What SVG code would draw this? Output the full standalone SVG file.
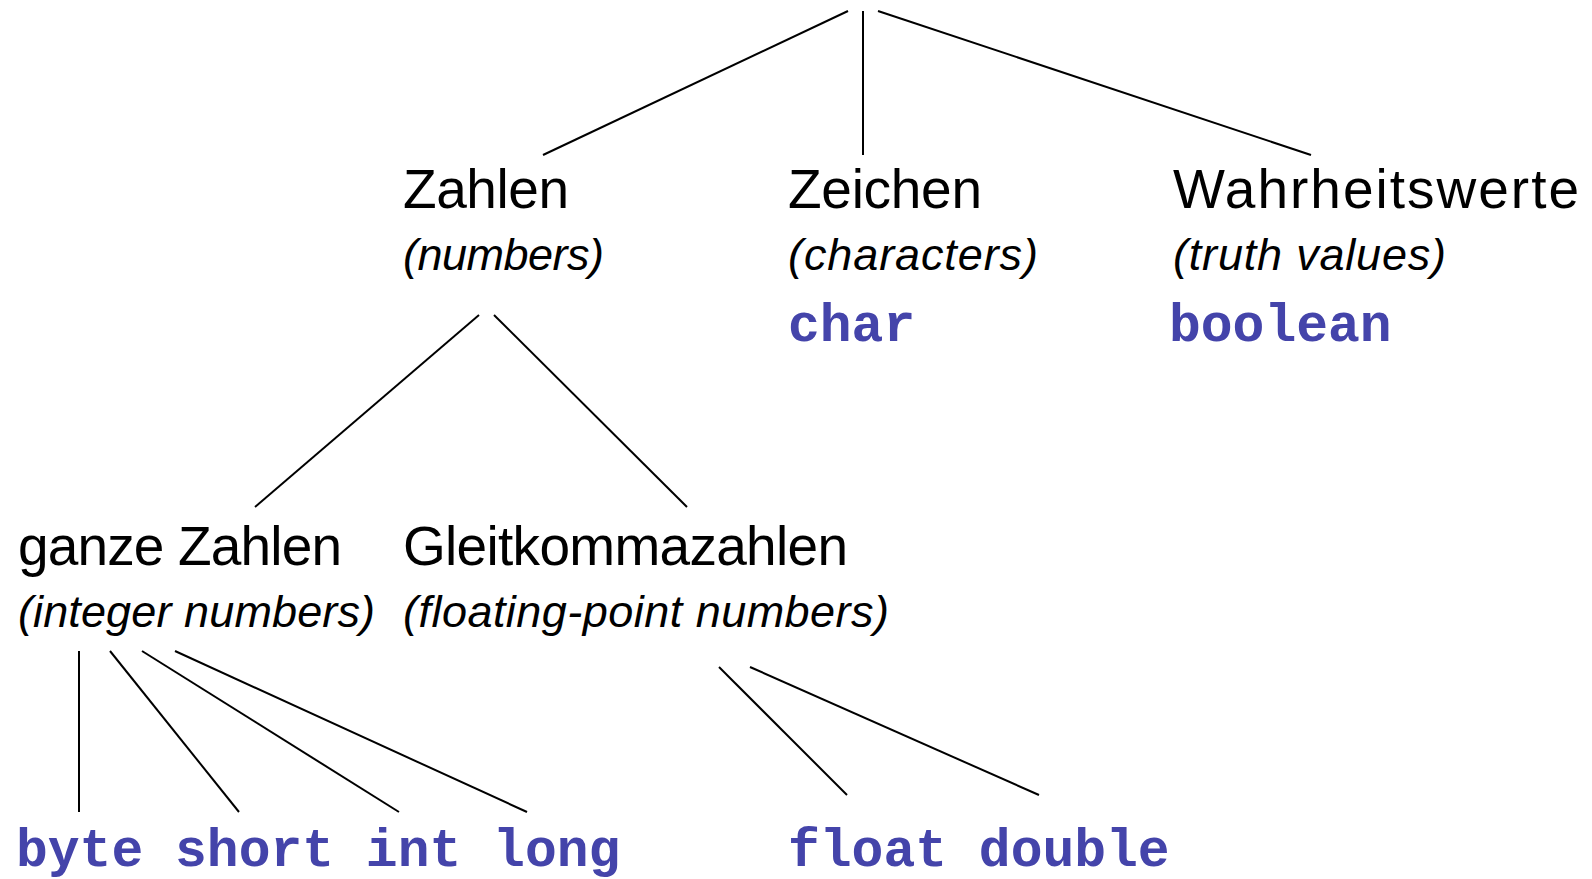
<svg xmlns="http://www.w3.org/2000/svg" width="1592" height="879" viewBox="0 0 1592 879">
<style>
.t{font-family:"Liberation Sans","DejaVu Sans",sans-serif;font-size:55px;fill:#000}
.s{font-family:"Liberation Sans","DejaVu Sans",sans-serif;font-size:45px;font-style:italic;fill:#000}
.k{font-family:"Liberation Mono","DejaVu Sans Mono",monospace;font-size:53px;font-weight:bold;fill:#4444AA}
.c line{stroke:#000;stroke-width:2}
</style>
<rect width="1592" height="879" fill="#fff"/>
<g id="connectors" class="c">
<line x1="848" y1="11" x2="543" y2="155"/>
<line x1="863" y1="11" x2="863" y2="155"/>
<line x1="878" y1="11" x2="1311" y2="155"/>
<line x1="479" y1="315" x2="255" y2="507"/>
<line x1="494" y1="315" x2="687" y2="507"/>
<line x1="79" y1="651" x2="79" y2="812"/>
<line x1="110" y1="651" x2="239" y2="812"/>
<line x1="142" y1="651" x2="399" y2="812"/>
<line x1="175" y1="651" x2="527" y2="812"/>
<line x1="719" y1="667" x2="847" y2="795"/>
<line x1="750" y1="667" x2="1039" y2="795"/>
</g>
<g id="zahlen"><text class="t" x="403" y="208" textLength="166">Zahlen</text><text class="s" x="403" y="270" textLength="201">(numbers)</text></g>
<g id="zeichen"><text class="t" x="788" y="208" textLength="194">Zeichen</text><text class="s" x="788" y="270" textLength="250">(characters)</text><text class="k" x="788" y="341">char</text></g>
<g id="wahrheitswerte"><text class="t" x="1173" y="208" textLength="406">Wahrheitswerte</text><text class="s" x="1173" y="270" textLength="273">(truth values)</text><text class="k" x="1169" y="341">boolean</text></g>
<g id="ganze"><text class="t" x="18" y="565" textLength="324">ganze Zahlen</text><text class="s" x="18" y="627" textLength="357">(integer numbers)</text></g>
<g id="gleit"><text class="t" x="403" y="565" textLength="445">Gleitkommazahlen</text><text class="s" x="403" y="627" textLength="486">(floating-point numbers)</text></g>
<g id="int-types"><text class="k" x="16" y="866">byte short int long</text></g>
<g id="float-types"><text class="k" x="788" y="866">float double</text></g>
</svg>
